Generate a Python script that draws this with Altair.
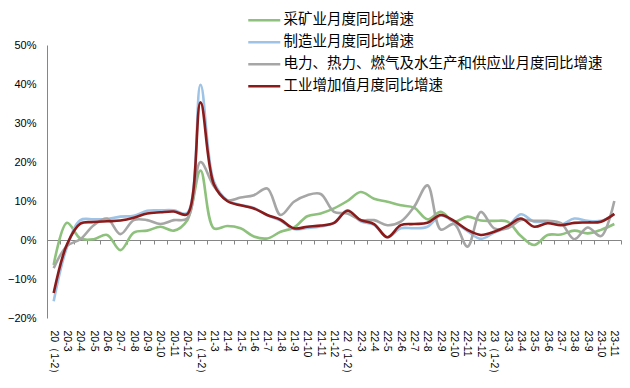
import altair as alt
import pandas as pd

months = [
    "20（1-2）", "20-3", "20-4", "20-5", "20-6", "20-7", "20-8", "20-9", "20-10", "20-11", "20-12",
    "21（1-2）", "21-3", "21-4", "21-5", "21-6", "21-7", "21-8", "21-9", "21-10", "21-11", "21-12",
    "22（1-2）", "22-3", "22-4", "22-5", "22-6", "22-7", "22-8", "22-9", "22-10", "22-11", "22-12",
    "23（1-2）", "23-3", "23-4", "23-5", "23-6", "23-7", "23-8", "23-9", "23-10", "23-11",
]

series_names = [
    "采矿业月度同比增速",
    "制造业月度同比增速",
    "电力、热力、燃气及水生产和供应业月度同比增速",
    "工业增加值月度同比增速",
]

mining = [
    -6.4, 4.4, 0.4, 0.2, 1.3, -2.6, 1.9, 2.4, 3.4, 2.4, 5.0,
    17.8, 3.0, 3.6, 3.0, 0.9, 0.4, 2.1, 3.2, 6.1, 6.8, 8.1,
    10.0, 12.3, 10.6, 9.8, 8.9, 8.3, 5.3, 7.2, 4.7, 6.0, 5.0,
    4.9, 4.7, 1.0, -1.3, 1.3, 1.4, 2.4, 1.7, 2.6, 4.1,
]
manufacturing = [
    -15.7, -1.8, 5.1, 5.3, 5.4, 6.0, 6.2, 7.5, 7.6, 7.6, 6.9,
    39.8, 15.0, 10.2, 9.0, 8.2, 6.3, 5.0, 2.8, 3.1, 3.5, 4.3,
    7.6, 4.8, 3.9, 0.7, 3.0, 3.0, 3.4, 6.3, 4.6, 2.3, 0.3,
    1.9, 3.4, 6.6, 4.7, 4.7, 3.9, 5.5, 4.9, 4.9, 6.6,
]
utilities = [
    -7.2, -1.5, 0.2, 3.8, 5.5, 1.5, 5.1, 5.1, 4.1, 5.1, 5.5,
    20.0, 13.8, 10.2, 10.9, 11.5, 13.2, 6.4, 9.8, 11.5, 11.8, 7.2,
    6.8, 5.1, 5.1, 3.8, 4.7, 8.5, 14.0, 2.7, 4.1, -1.7, 7.2,
    3.0, 3.0, 5.1, 4.9, 4.9, 4.3, 0.2, 3.2, 1.0, 10.0,
]
industrial = [
    -13.6, -1.1, 4.2, 4.6, 4.8, 5.0, 5.7, 6.8, 7.1, 7.3, 6.6,
    35.3, 14.3, 10.0, 8.9, 8.1, 6.4, 5.2, 3.0, 3.4, 3.7, 4.4,
    7.5, 5.1, 4.1, 0.7, 3.8, 4.1, 4.4, 6.4, 4.9, 2.6, 1.3,
    2.1, 3.6, 5.5, 3.4, 4.3, 3.8, 4.4, 4.5, 4.7, 6.7,
]

colors = ["#8dc17c", "#9dc3e6", "#a6a6a6", "#8b1a1a"]
widths = [2.6, 2.6, 2.6, 4.6]

rows = []
for name, vals in zip(series_names, [mining, manufacturing, utilities, industrial]):
    for m, v in zip(months, vals):
        rows.append({"month": m, "series": name, "value": v / 100.0})
df = pd.DataFrame(rows)

y_scale = alt.Scale(domain=[-0.2, 0.5], nice=False, zero=False)
x_scale = alt.Scale(type="band", paddingInner=0, paddingOuter=0)

y_axis = alt.Axis(format=".0%", values=[-0.2, -0.1, 0, 0.1, 0.2, 0.3, 0.4, 0.5],
                  labelFont="Liberation Sans", labelFontSize=11, labelColor="#000000",
                  ticks=False, labelPadding=11, domainColor="#868686", grid=False)

legend = alt.Legend(
    title=None, orient="none", legendX=210, legendY=-32,
    symbolType="M-3.2,0H3.2", symbolSize=100,
    labelFont="Noto Sans CJK SC", labelFontSize=14.5, labelColor="#000000",
    labelLimit=600, labelOffset=12, rowPadding=7, padding=0,
)

lines = alt.Chart(df).mark_line(interpolate="catmull-rom").encode(
    x=alt.X("month:N", sort=months, scale=x_scale, bandPosition=0.5, title=None,
            axis=alt.Axis(orient="bottom", labelAngle=90, labelAlign="left", labelBaseline="middle",
                          labelFont="Liberation Sans", labelFontSize=10.5, labelColor="#000000",
                          labelPadding=12, ticks=False, domain=False, labelOverlap=False)),
    y=alt.Y("value:Q", scale=y_scale, title=None, axis=y_axis),
    color=alt.Color("series:N", sort=series_names,
                    scale=alt.Scale(domain=series_names, range=colors), legend=legend),
    strokeWidth=alt.StrokeWidth("series:N", sort=series_names,
                                scale=alt.Scale(domain=series_names, range=widths), legend=legend),
)

zero = alt.Chart(df).mark_point(opacity=0).encode(
    x=alt.X("month:N", sort=months, scale=x_scale, title=None,
            axis=alt.Axis(orient="bottom", offset=-78, labels=False, domainColor="#868686",
                          tickColor="#868686", tickSize=4, tickBand="extent", domain=True)),
    y=alt.Y("value:Q", scale=y_scale, title=None, axis=y_axis),
)

chart = alt.layer(zero, lines).resolve_axis(x="independent").properties(
    width=574, height=273,
    autosize=alt.AutoSizeParams(type="none"),
    padding={"left": 47, "top": 45, "right": 9, "bottom": 70},
).configure_view(stroke=None)

chart.save("out.html", embed_options={"renderer": "svg", "actions": False})
